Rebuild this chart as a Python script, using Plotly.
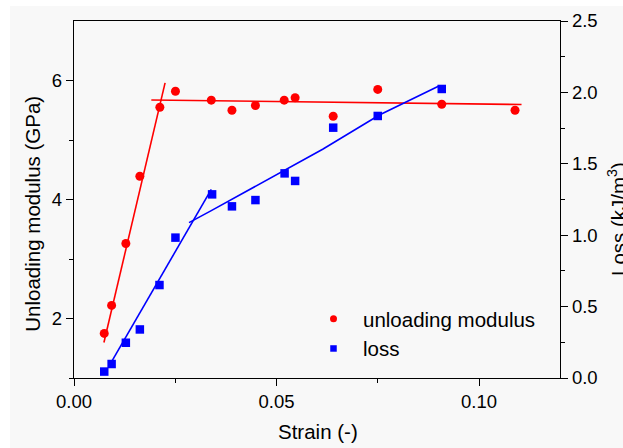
import plotly.graph_objects as go

# ---- data ----
strain_mod = [0.00747, 0.00929, 0.0128, 0.01626, 0.0212, 0.02505, 0.0339, 0.0390,
              0.0448, 0.0519, 0.0546, 0.0640, 0.0750, 0.0908, 0.1089]
modulus = [1.75, 2.22, 3.26, 4.39, 5.55, 5.82, 5.67, 5.50, 5.58, 5.67, 5.71,
           5.40, 5.85, 5.60, 5.50]

strain_loss = [0.00747, 0.00929, 0.0128, 0.01626, 0.0211, 0.02505, 0.0341, 0.0390,
               0.0448, 0.0520, 0.0546, 0.0640, 0.0750, 0.0908]
loss = [0.045, 0.098, 0.247, 0.340, 0.651, 0.983, 1.286, 1.202, 1.246, 1.433,
        1.380, 1.753, 1.835, 2.024]

# fitted lines
mod_fit1_x = [0.00739, 0.02249]
mod_fit1_y = [1.596, 5.96]
mod_fit2_x = [0.0191, 0.1105]
mod_fit2_y = [5.673, 5.596]
loss_fit1_x = [0.00929, 0.0339]
loss_fit1_y = [0.114, 1.321]
loss_fit2_x = [0.0284, 0.0339, 0.0614, 0.0754, 0.0901]
loss_fit2_y = [1.088, 1.172, 1.602, 1.842, 2.045]

x_tickvals = [0.0, 0.05, 0.10]
x_ticktext = ["0.00", "0.05", "0.10"]
y1_tickvals = [2, 4, 6]
y2_tickvals = [0.0, 0.5, 1.0, 1.5, 2.0, 2.5]
y2_ticktext = ["0.0", "0.5", "1.0", "1.5", "2.0", "2.5"]

RED = "#ff0000"
BLUE = "#0000ff"
FONT = "Arial, 'Liberation Sans', sans-serif"
BG = "#f8f8f8"

W, H = 623, 448
L, R, T, B = 74, 63, 21, 70
PW, PH = W - L - R, H - T - B


def px2x(px):
    return (px - L) / PW


def py2y(py):
    return (H - B - py) / PH


fig = go.Figure()

# fit lines
fig.add_trace(go.Scatter(x=mod_fit1_x, y=mod_fit1_y, mode="lines",
                         line=dict(color=RED, width=1.6), showlegend=False))
fig.add_trace(go.Scatter(x=mod_fit2_x, y=mod_fit2_y, mode="lines",
                         line=dict(color=RED, width=1.6), showlegend=False))
fig.add_trace(go.Scatter(x=loss_fit1_x, y=loss_fit1_y, mode="lines", yaxis="y2",
                         line=dict(color=BLUE, width=1.6), showlegend=False))
fig.add_trace(go.Scatter(x=loss_fit2_x, y=loss_fit2_y, mode="lines", yaxis="y2",
                         line=dict(color=BLUE, width=1.6), showlegend=False))

# data points
fig.add_trace(go.Scatter(x=strain_mod, y=modulus, mode="markers",
                         marker=dict(color=RED, size=9, symbol="circle"),
                         showlegend=False))
fig.add_trace(go.Scatter(x=strain_loss, y=loss, mode="markers", yaxis="y2",
                         marker=dict(color=BLUE, size=8.5, symbol="square"),
                         showlegend=False))

# legend entries
fig.add_trace(go.Scatter(x=[None], y=[None], mode="markers", name="unloading modulus",
                         marker=dict(color=RED, size=7, symbol="circle")))
fig.add_trace(go.Scatter(x=[None], y=[None], mode="markers", name="loss", yaxis="y2",
                         marker=dict(color=BLUE, size=6.5, symbol="square")))

axis_common = dict(showgrid=False, zeroline=False, showline=True, linecolor="black",
                   linewidth=1.4, ticks="outside", ticklen=7, tickwidth=1.4,
                   tickcolor="black", tickfont=dict(family=FONT, size=18.5, color="black"))

fig.update_layout(
    width=W, height=H,
    margin=dict(l=L, r=R, t=T, b=B, autoexpand=False),
    paper_bgcolor="white",
    plot_bgcolor=BG,
    font=dict(family=FONT, color="black"),
    xaxis=dict(range=[0, 0.12], tickvals=x_tickvals, ticktext=x_ticktext,
               mirror=True,
               minor=dict(tickvals=[0.025, 0.075], ticklen=4, tickwidth=1.4,
                          tickcolor="black", ticks="outside"),
               **axis_common),
    yaxis=dict(range=[1, 7], tickvals=y1_tickvals, mirror=True,
               minor=dict(tickvals=[1, 3, 5], ticklen=4, tickwidth=1.4,
                          tickcolor="black", ticks="outside"),
               **axis_common),
    yaxis2=dict(range=[0, 2.5], tickvals=y2_tickvals, ticktext=y2_ticktext,
                overlaying="y", side="right",
                minor=dict(tickvals=[0.25, 0.75, 1.25, 1.75, 2.25], ticklen=4,
                           tickwidth=1.4, tickcolor="black", ticks="outside"),
                **axis_common),
    legend=dict(x=px2x(304), y=py2y(299), xanchor="left", yanchor="top",
                bgcolor="rgba(0,0,0,0)", itemwidth=49,
                font=dict(family=FONT, size=20.5, color="black")),
    shapes=[dict(type="rect", xref="paper", yref="paper", layer="below",
                 x0=px2x(10), x1=px2x(W + 5), y0=py2y(H + 5), y1=py2y(6),
                 fillcolor=BG, line=dict(width=0))],
    annotations=[
        dict(text="Strain (-)", xref="paper", yref="paper", x=px2x(317.8), y=py2y(431.7),
             xanchor="center", yanchor="middle", showarrow=False,
             font=dict(family=FONT, size=20.5, color="black")),
        dict(text="Unloading modulus (GPa)", xref="paper", yref="paper",
             x=px2x(31.7), y=py2y(214), xanchor="center", yanchor="middle",
             textangle=-90, showarrow=False,
             font=dict(family=FONT, size=20.5, color="black")),
        dict(text="Loss (kJ/m<sup>3</sup>)", xref="paper", yref="paper",
             x=px2x(617), y=py2y(219), xanchor="center", yanchor="middle",
             textangle=-90, showarrow=False,
             font=dict(family=FONT, size=20.5, color="black")),
    ],
)

fig.write_html("out.html", config={"displayModeBar": False},
               post_script="document.body.style.margin='0';document.body.style.padding='0';")
